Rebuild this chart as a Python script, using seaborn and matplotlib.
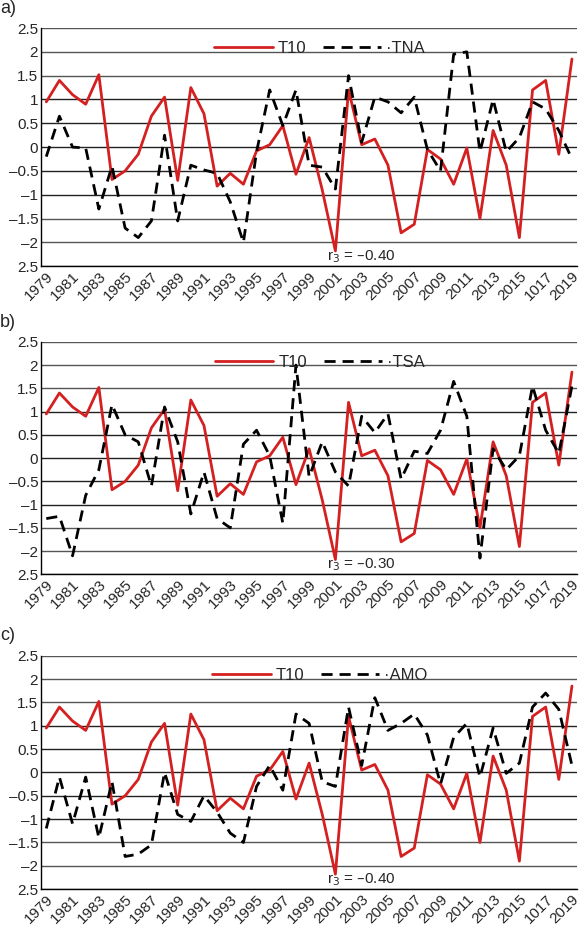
import matplotlib
matplotlib.use("Agg")
import matplotlib.pyplot as plt
import seaborn as sns
import pandas as pd
import numpy as np

sns.set_theme(style="white")
plt.rcParams['font.family'] = ['Liberation Sans', 'DejaVu Sans']

years = list(range(1979, 2020))
t10 = [0.95, 1.4, 1.1, 0.9, 1.52, -0.68, -0.5, -0.15, 0.65, 1.05, -0.7, 1.25, 0.7, -0.82, -0.55, -0.78,
       -0.08, 0.05, 0.45, -0.57, 0.2, -0.9, -2.18, 1.2, 0.05, 0.17, -0.38, -1.8, -1.62, -0.05, -0.25,
       -0.78, -0.02, -1.5, 0.35, -0.38, -1.9, 1.2, 1.4, -0.15, 1.85]
tna = [-0.2, 0.65, 0.0, -0.02, -1.3, -0.4, -1.7, -1.9, -1.55, 0.25, -1.55, -0.38, -0.48, -0.55, -1.15, -2.0,
       -0.1, 1.2, 0.45, 1.2, -0.38, -0.42, -0.88, 1.5, 0.1, 1.05, 0.95, 0.72, 1.05, -0.05, -0.5,
       1.95, 2.0, -0.1, 1.0, -0.1, 0.2, 0.95, 0.8, 0.35, -0.25]
tsa = [-1.3, -1.25, -2.1, -0.8, -0.25, 1.15, 0.5, 0.35, -0.6, 1.1, 0.35, -1.2, -0.3, -1.3, -1.5, 0.3,
       0.6, 0.05, -1.4, 2.0, -0.4, 0.35, -0.3, -0.6, 0.9, 0.55, 0.95, -0.45, 0.15, 0.1, 0.6,
       1.65, 0.9, -2.15, 0.2, -0.25, 0.05, 1.55, 0.6, 0.1, 1.55]
amo = [-1.2, -0.1, -1.1, -0.1, -1.4, -0.2, -1.8, -1.75, -1.55, 0.0, -0.9, -1.05, -0.5, -0.85, -1.3, -1.5,
       -0.3, 0.15, -0.38, 1.25, 1.05, -0.2, -0.3, 1.4, 0.15, 1.6, 0.9, 1.05, 1.25, 0.8, -0.25,
       0.75, 1.05, -0.1, 0.95, -0.02, 0.2, 1.4, 1.7, 1.35, 0.15]

xtick_labels = [str(y) for y in years[::2]]
xtick_labels[19] = "1017"
ytick_vals = [2.5, 2, 1.5, 1, 0.5, 0, -0.5, -1, -1.5, -2, -2.5]
ytick_labels = ["2.5", "2", "1.5", "1", "0.5", "0", "\u20130.5", "\u20131", "\u20131.5", "\u20132", "2.5"]

panels = [("a)", "TNA", tna, "r$_3$ = \u20130.40", 0.970, 0.715),
          ("b)", "TSA", tsa, "r$_3$ = \u20130.30", 0.634, 0.385),
          ("c)", "AMO", amo, "r$_3$ = \u20130.40", 0.298, 0.048)]

fig = plt.figure(figsize=(5.86, 9.34), dpi=100)
for lab, name, vals, rtxt, top, bot in panels:
    ax = fig.add_axes([0.07, bot, 0.915, top - bot])
    df = pd.DataFrame({"year": years, "T10": t10, name: vals})
    for v in ytick_vals:
        ax.axhline(v, color="#222222" if abs(v) in (0, 0.5, 1.0) else "#555555", lw=1.0, zorder=0)
    sns.lineplot(data=df, x="year", y="T10", ax=ax, color="#d42020", lw=2.0, label="T10")
    sns.lineplot(data=df, x="year", y=name, ax=ax, color="black", lw=2.0, label="\u00b7" + name,
                 dashes=False, linestyle=(0, (4, 2.5)))
    ax.set_xlim(1978.6, 2019.4)
    ax.set_ylim(-2.5, 2.5)
    ax.set_yticks(ytick_vals)
    ax.set_yticklabels(ytick_labels, fontsize=11)
    ax.set_xticks(years[::2])
    ax.set_xticklabels(xtick_labels, rotation=45, fontsize=11, ha="right", rotation_mode="anchor")
    ax.set_xlabel("")
    ax.set_ylabel("")
    for s in ["top", "right"]:
        ax.spines[s].set_visible(False)
    for s in ["left", "bottom"]:
        ax.spines[s].set_color("black")
        ax.spines[s].set_linewidth(1.0)
    ax.tick_params(axis="both", length=0, pad=2)
    ax.legend(loc="upper center", ncol=2, frameon=False, fontsize=12, handlelength=3.5,
              columnspacing=1.0, handletextpad=0.3, bbox_to_anchor=(0.52, 1.01))
    ax.text(2003.0, -2.3, rtxt, fontsize=11, ha="center", va="center")
    fig.text(0.0, top + 0.012, lab, fontsize=13, ha="left", va="bottom")

fig.savefig("out.png", dpi=100)
